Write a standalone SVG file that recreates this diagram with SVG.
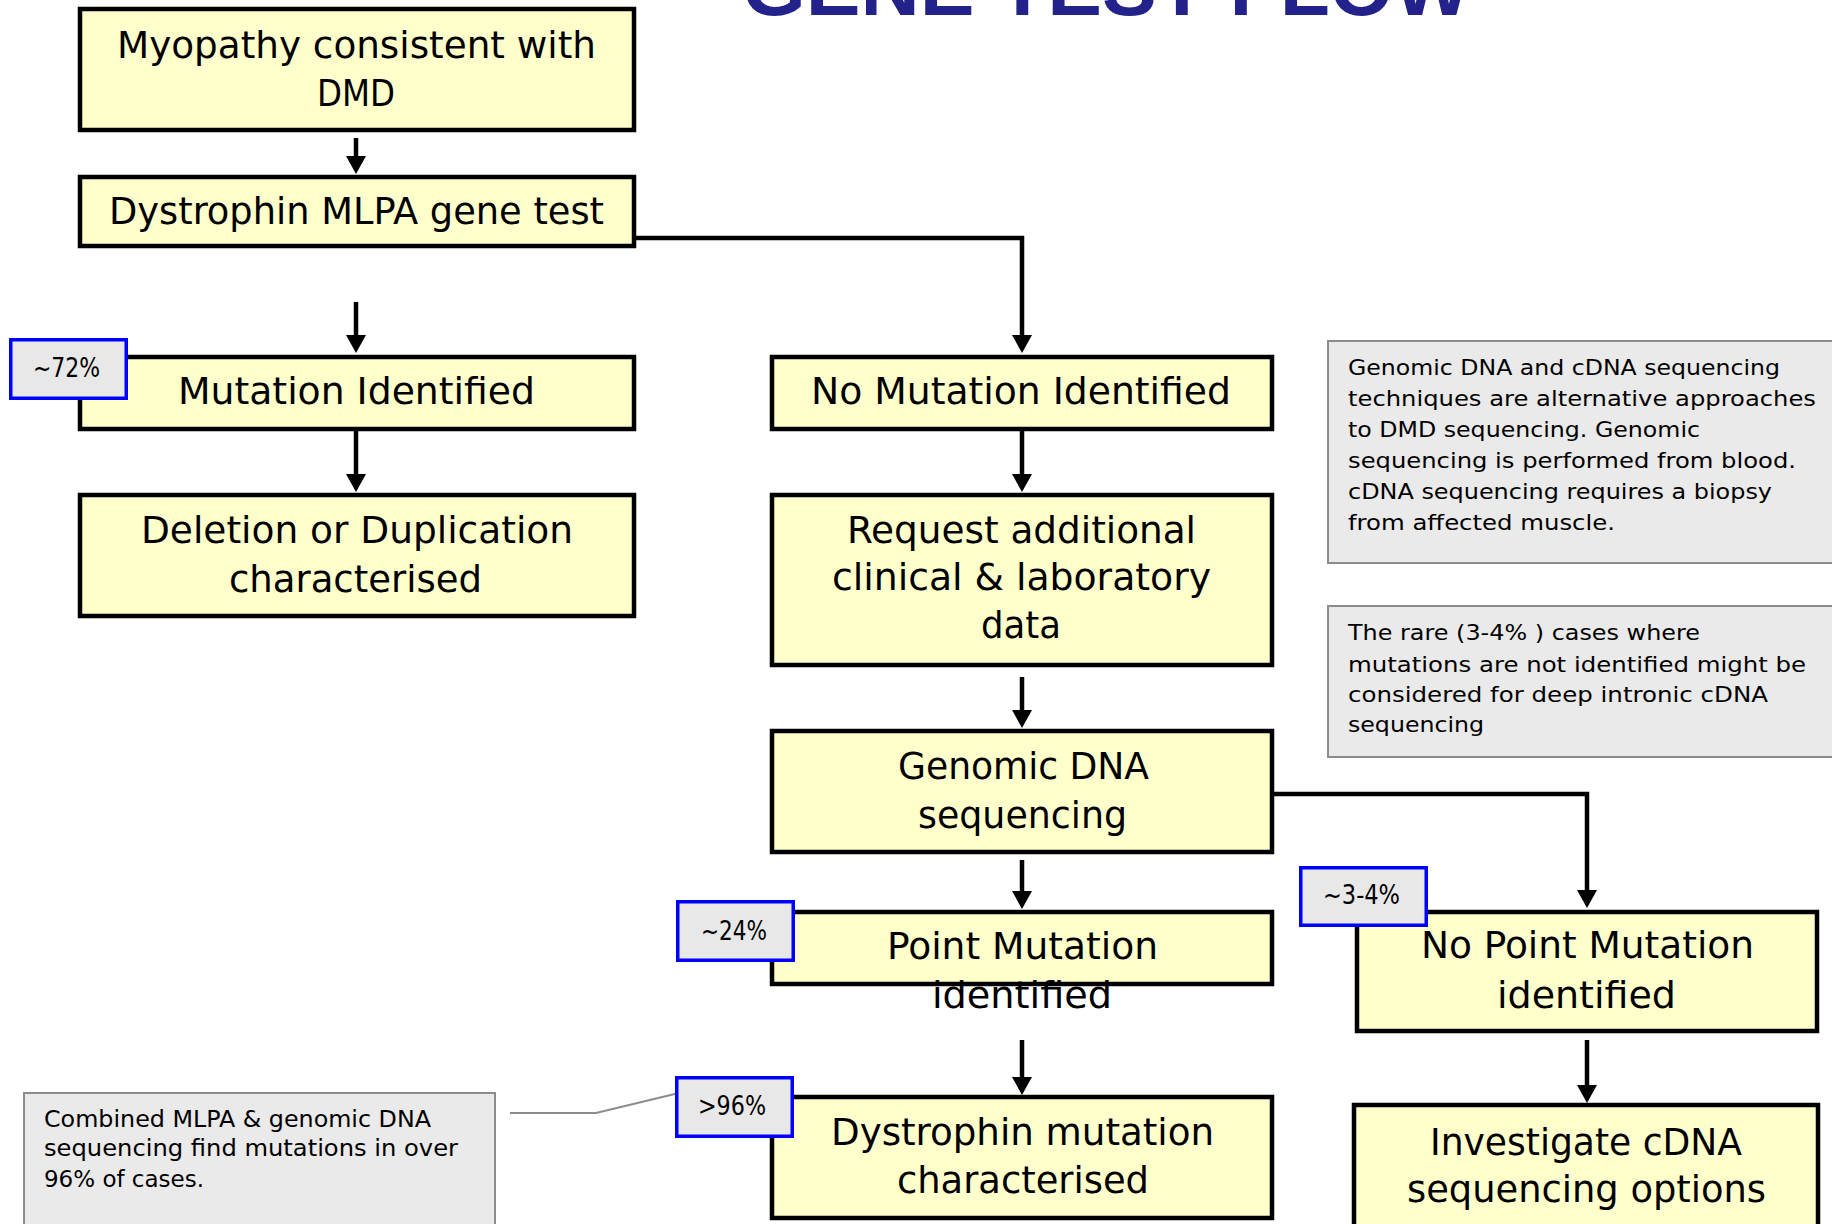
<svg xmlns="http://www.w3.org/2000/svg" width="1832" height="1224" viewBox="0 0 1832 1224">
<style>
.node{fill:#FFFFCC;stroke:#000;stroke-width:4.5}
.nt{font-family:"DejaVu Sans Condensed","DejaVu Sans",sans-serif;font-size:38px;fill:#000}
.badge{fill:#E8E8E8;stroke:#0000FF;stroke-width:3.5}
.bt{font-family:"DejaVu Sans Condensed","DejaVu Sans",sans-serif;font-size:26px;fill:#000}
.note{fill:#EAEAEA;stroke:#8C8C8C;stroke-width:2}
.ntx{font-family:"DejaVu Sans",sans-serif;font-size:22px;fill:#000}
.ntc{font-family:"DejaVu Sans Condensed","DejaVu Sans",sans-serif;font-size:23px;fill:#000}
.conn{fill:none;stroke:#000;stroke-width:4.5;marker-end:url(#ah)}
.lead{fill:none;stroke:#8C8C8C;stroke-width:2}
.title{font-family:"Liberation Sans",Arial,sans-serif;font-weight:bold;font-size:80px;fill:#22228A}
</style>
<defs>
<marker id="ah" markerUnits="userSpaceOnUse" markerWidth="20" markerHeight="20" refX="8" refY="10" orient="auto">
<path d="M0,0 L18,10 L0,20 Z" fill="#000"/>
</marker>
</defs>

<text class="title" x="742" y="15" textLength="729" lengthAdjust="spacingAndGlyphs">GENE TEST FLOW</text>

<g id="connectors">
<line class="conn" x1="356" y1="138" x2="356" y2="164"/>
<line class="conn" x1="356" y1="302" x2="356" y2="343"/>
<line class="conn" x1="356" y1="431" x2="356" y2="482"/>
<path class="conn" d="M636 238 H1022 V343"/>
<line class="conn" x1="1022" y1="431" x2="1022" y2="482"/>
<line class="conn" x1="1022" y1="677" x2="1022" y2="718"/>
<path class="conn" d="M1274 794 H1587 V898"/>
<line class="conn" x1="1022" y1="860" x2="1022" y2="899"/>
<line class="conn" x1="1022" y1="1040" x2="1022" y2="1085"/>
<line class="conn" x1="1587" y1="1040" x2="1587" y2="1093"/>
<polyline class="lead" points="510,1113 596,1113 683,1092"/>
</g>

<g id="myopathy">
<rect class="node" x="80" y="9" width="554" height="121"/>
<text class="nt" x="117" y="58" textLength="479" lengthAdjust="spacingAndGlyphs">Myopathy consistent with</text>
<text class="nt" x="317" y="106" textLength="78" lengthAdjust="spacingAndGlyphs">DMD</text>
</g>

<g id="mlpa">
<rect class="node" x="80" y="177" width="554" height="69"/>
<text class="nt" x="109" y="224" textLength="495" lengthAdjust="spacingAndGlyphs">Dystrophin MLPA gene test</text>
</g>

<g id="mutation-identified">
<rect class="node" x="80" y="357" width="554" height="72"/>
<text class="nt" x="178" y="404" textLength="357" lengthAdjust="spacingAndGlyphs">Mutation Identified</text>
</g>

<g id="deletion">
<rect class="node" x="80" y="495" width="554" height="121"/>
<text class="nt" x="141" y="543" textLength="432" lengthAdjust="spacingAndGlyphs">Deletion or Duplication</text>
<text class="nt" x="229" y="592" textLength="253" lengthAdjust="spacingAndGlyphs">characterised</text>
</g>

<g id="no-mutation">
<rect class="node" x="772" y="357" width="500" height="72"/>
<text class="nt" x="811" y="404" textLength="420" lengthAdjust="spacingAndGlyphs">No Mutation Identified</text>
</g>

<g id="request">
<rect class="node" x="772" y="495" width="500" height="170"/>
<text class="nt" x="847" y="543" textLength="349" lengthAdjust="spacingAndGlyphs">Request additional</text>
<text class="nt" x="832" y="590" textLength="379" lengthAdjust="spacingAndGlyphs">clinical &amp; laboratory</text>
<text class="nt" x="981" y="638" textLength="80" lengthAdjust="spacingAndGlyphs">data</text>
</g>

<g id="genomic">
<rect class="node" x="772" y="731" width="500" height="121"/>
<text class="nt" x="898" y="779" textLength="251" lengthAdjust="spacingAndGlyphs">Genomic DNA</text>
<text class="nt" x="918" y="828" textLength="209" lengthAdjust="spacingAndGlyphs">sequencing</text>
</g>

<g id="point-mutation">
<rect class="node" x="772" y="912" width="500" height="72"/>
<text class="nt" x="887" y="959" textLength="271" lengthAdjust="spacingAndGlyphs">Point Mutation</text>
<text class="nt" x="932" y="1008" textLength="180" lengthAdjust="spacingAndGlyphs">identified</text>
</g>

<g id="dystrophin-mutation">
<rect class="node" x="772" y="1097" width="500" height="121"/>
<text class="nt" x="831" y="1145" textLength="383" lengthAdjust="spacingAndGlyphs">Dystrophin mutation</text>
<text class="nt" x="897" y="1193" textLength="252" lengthAdjust="spacingAndGlyphs">characterised</text>
</g>

<g id="no-point-mutation">
<rect class="node" x="1357" y="912" width="460" height="119"/>
<text class="nt" x="1421" y="958" textLength="333" lengthAdjust="spacingAndGlyphs">No Point Mutation</text>
<text class="nt" x="1497" y="1008" textLength="179" lengthAdjust="spacingAndGlyphs">identified</text>
</g>

<g id="investigate">
<rect class="node" x="1354" y="1105" width="464" height="140"/>
<text class="nt" x="1430" y="1155" textLength="312" lengthAdjust="spacingAndGlyphs">Investigate cDNA</text>
<text class="nt" x="1407" y="1202" textLength="359" lengthAdjust="spacingAndGlyphs">sequencing options</text>
</g>

<g id="badge-72">
<rect class="badge" x="10.75" y="339.75" width="115.5" height="58.5"/>
<text class="bt" x="33" y="377" textLength="67" lengthAdjust="spacingAndGlyphs">~72%</text>
</g>

<g id="badge-24">
<rect class="badge" x="677.75" y="901.75" width="115.5" height="58.5"/>
<text class="bt" x="701" y="940" textLength="66" lengthAdjust="spacingAndGlyphs">~24%</text>
</g>

<g id="badge-96">
<rect class="badge" x="676.75" y="1077.75" width="115.5" height="58.5"/>
<text class="bt" x="698" y="1115" textLength="68" lengthAdjust="spacingAndGlyphs">&gt;96%</text>
</g>

<g id="badge-3-4">
<rect class="badge" x="1300.75" y="867.75" width="125.5" height="57.5"/>
<text class="bt" x="1323" y="904" textLength="77" lengthAdjust="spacingAndGlyphs">~3-4%</text>
</g>

<g id="note-alternatives">
<rect class="note" x="1328" y="341" width="520" height="222"/>
<text class="ntx" x="1348" y="375" textLength="432" lengthAdjust="spacingAndGlyphs">Genomic DNA and cDNA sequencing</text>
<text class="ntx" x="1348" y="406" textLength="468" lengthAdjust="spacingAndGlyphs">techniques are alternative approaches</text>
<text class="ntx" x="1348" y="437" textLength="352" lengthAdjust="spacingAndGlyphs">to DMD sequencing. Genomic</text>
<text class="ntx" x="1348" y="468" textLength="448" lengthAdjust="spacingAndGlyphs">sequencing is performed from blood.</text>
<text class="ntx" x="1348" y="499" textLength="424" lengthAdjust="spacingAndGlyphs">cDNA sequencing requires a biopsy</text>
<text class="ntx" x="1348" y="530" textLength="267" lengthAdjust="spacingAndGlyphs">from affected muscle.</text>
</g>

<g id="note-rare">
<rect class="note" x="1328" y="606" width="520" height="151"/>
<text class="ntx" x="1348" y="640" textLength="352" lengthAdjust="spacingAndGlyphs">The rare (3-4% ) cases where</text>
<text class="ntx" x="1348" y="672" textLength="458" lengthAdjust="spacingAndGlyphs">mutations are not identified might be</text>
<text class="ntx" x="1348" y="702" textLength="420" lengthAdjust="spacingAndGlyphs">considered for deep intronic cDNA</text>
<text class="ntx" x="1348" y="732" textLength="136" lengthAdjust="spacingAndGlyphs">sequencing</text>
</g>

<g id="note-combined">
<rect class="note" x="24" y="1093" width="471" height="150"/>
<text class="ntc" x="44" y="1127" textLength="387" lengthAdjust="spacingAndGlyphs">Combined MLPA &amp; genomic DNA</text>
<text class="ntc" x="44" y="1156" textLength="414" lengthAdjust="spacingAndGlyphs">sequencing find mutations in over</text>
<text class="ntc" x="44" y="1187" textLength="160" lengthAdjust="spacingAndGlyphs">96% of cases.</text>
</g>
</svg>
